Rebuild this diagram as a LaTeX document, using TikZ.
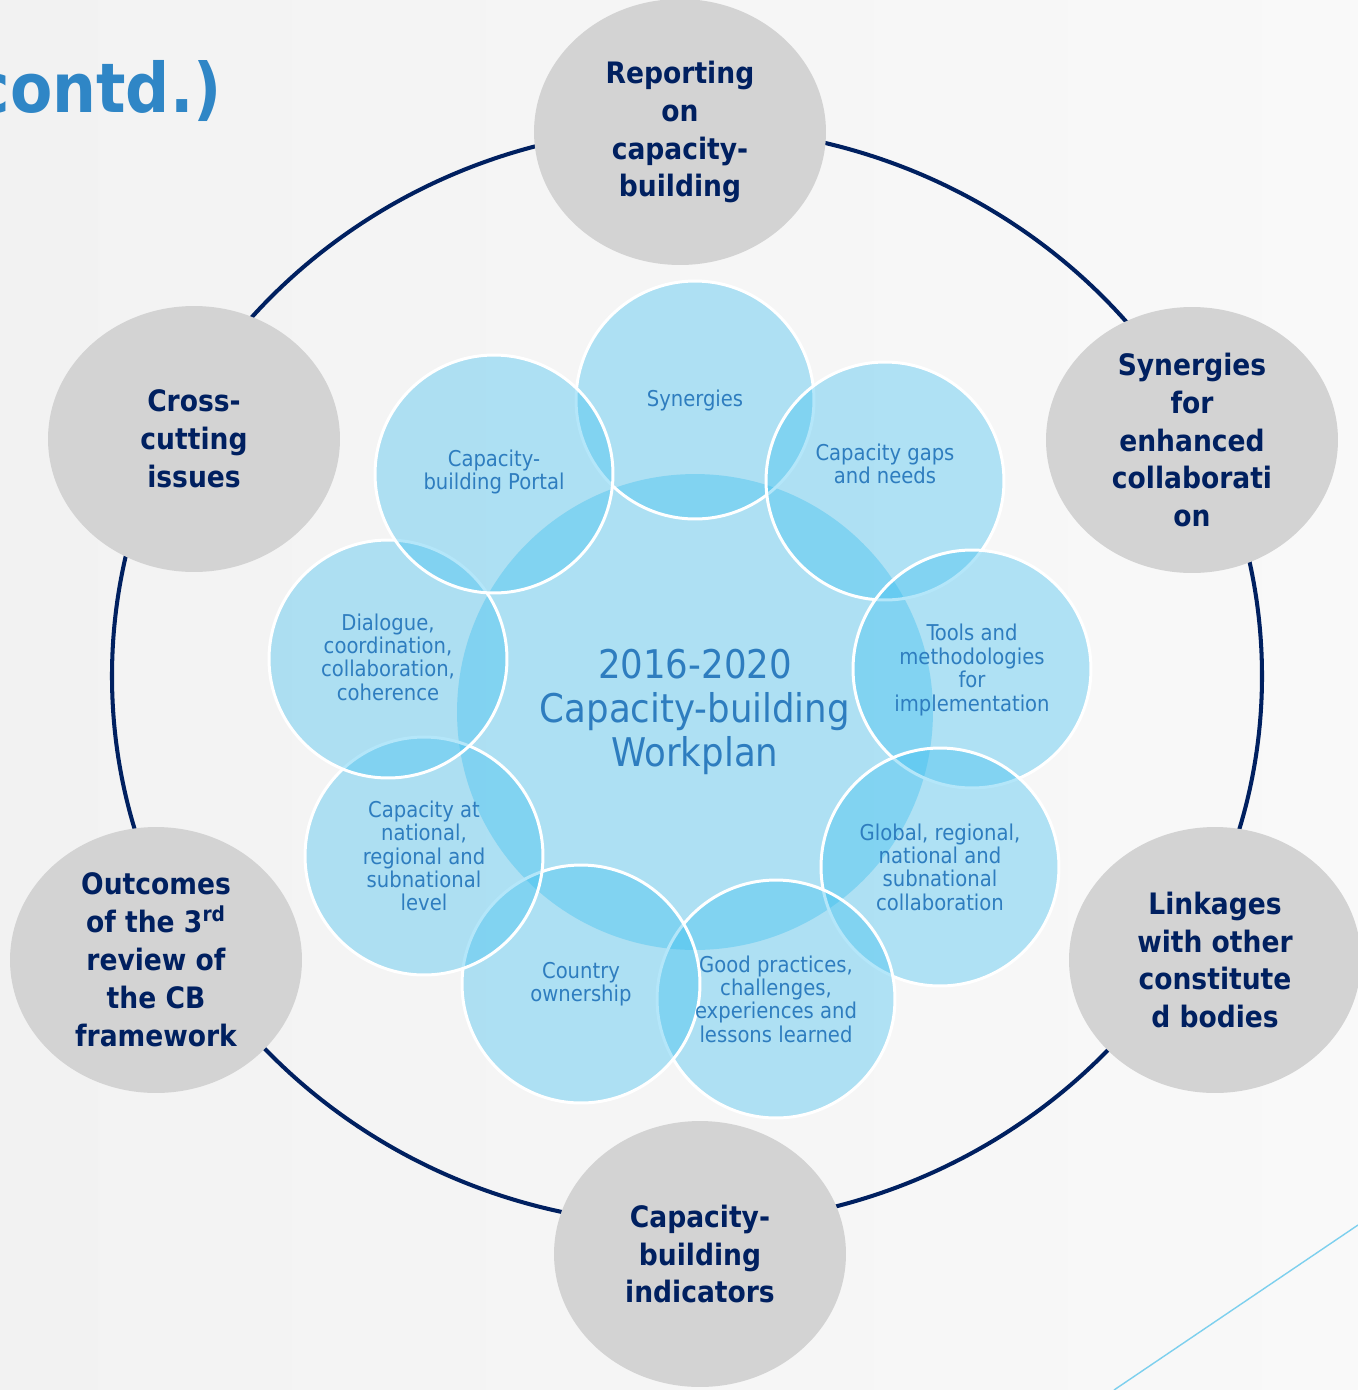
\documentclass[tikz,border=0pt]{standalone}
\usepackage{fontspec}
\setmainfont{DejaVu Sans Condensed}[BoldFont={DejaVu Sans Condensed Bold}]
\usepackage{tikz}
\usetikzlibrary{shapes.geometric}

\definecolor{navy}{RGB}{0,32,96}
\definecolor{bubbleblue}{RGB}{58,190,240}
\definecolor{bubbletext}{RGB}{46,125,191}
\definecolor{titleblue}{RGB}{47,134,198}
\definecolor{ovalgray}{RGB}{211,211,211}
\definecolor{bgleft}{RGB}{242,242,242}
\definecolor{bgright}{RGB}{249,249,249}
\definecolor{slideline}{RGB}{125,208,238}

\tikzset{
  oval/.style={ellipse, fill=ovalgray, minimum width=5.84cm, minimum height=5.32cm,
    inner sep=0pt, align=center, text=navy, font=\bfseries\fontsize{16.8}{21.6}\selectfont},
  bubble/.style={circle, fill=bubbleblue, fill opacity=0.38, draw=white, line width=1.7pt,
    minimum size=4.76cm, inner sep=0pt},
  hub/.style={circle, fill=bubbleblue, fill opacity=0.38, minimum size=9.52cm, inner sep=0pt},
  bubblelabel/.style={align=center, text=bubbletext, font=\fontsize{12.4}{13.3}\selectfont}
}

\begin{document}
\begin{tikzpicture}[x=0.02cm,y=-0.02cm]

  % Page in pixel units, y pointing down
  \useasboundingbox (0,0) rectangle (1358,1390);
  \shade [left color=bgleft, right color=bgright] (0,0) rectangle (1358,1390);

  % Title, cut at the left edge of the slide
  \node [anchor=base east, inner sep=0pt, text=titleblue,
         font=\bfseries\fontsize{39}{47}\selectfont] (title) at (222,112) {contd.)};

  % Thin accent line in the lower right corner
  \coordinate (accentA) at (1114,1390);
  \coordinate (accentB) at (1358,1225);
  \draw [slideline, line width=0.8pt] (accentA) -- (accentB);

  %%%%%%%%%%%%%%%%%%%%%%%%%%%%%%%%%%%%%%%%%%%%%%%%%%%%%%%%%%%%%%%%%%%%%%%%%%%%5
  %% Outer ring with the six grey topics
  %%%%%%%%%%%%%%%%%%%%%%%%%%%%%%%%%%%%%%%%%%%%%%%%%%%%%%%%%%%%%%%%%%%%%%%%%%%%5

  \draw [navy, line width=2.3pt] (687,676) ellipse [x radius=575, y radius=549];

  \node [oval] (report)     at (680,132)  {Reporting\\on\\capacity-\\building};
  \node [oval] (cross)      at (194,439)  {Cross-\\cutting\\issues};
  \node [oval] (synenh)     at (1192,440) {Synergies\\for\\enhanced\\collaborati\\on};
  \node [oval] (outcomes)   at (156,960)  {Outcomes\\of the 3\textsuperscript{rd}\\review of\\the CB\\framework};
  \node [oval] (linkages)   at (1215,960) {Linkages\\with other\\constitute\\d bodies};
  \node [oval] (indicators) at (700,1254) {Capacity-\\building\\indicators};

  %%%%%%%%%%%%%%%%%%%%%%%%%%%%%%%%%%%%%%%%%%%%%%%%%%%%%%%%%%%%%%%%%%%%%%%%%%%%5
  %% Inner cluster: the workplan and its nine work areas
  %%%%%%%%%%%%%%%%%%%%%%%%%%%%%%%%%%%%%%%%%%%%%%%%%%%%%%%%%%%%%%%%%%%%%%%%%%%%5

  % The big circle in the middle
  \node [hub] (hub) at (695,712) {};

  % The small circles, clockwise from the top
  \foreach \x/\y/\n in {695/400/syn, 885/481/gaps, 972/669/tools, 940/867/global,
                        776/999/good, 581/984/country, 424/856/capnat,
                        388/659/dialogue, 494/474/portal}
    \node [bubble] (\n) at (\x,\y) {};

  % Their texts, on top of all fills
  \foreach \x/\y/\n/\t in {695/400/syn/{Synergies},
                           885/464/gaps/{Capacity gaps\\and needs},
                           972/670/tools/{Tools and\\methodologies\\for\\implementation},
                           940/867/global/{Global, regional,\\national and\\subnational\\collaboration},
                           776/999/good/{Good practices,\\challenges,\\experiences and\\lessons learned},
                           581/984/country/{Country\\ownership},
                           424/856/capnat/{Capacity at\\national,\\regional and\\subnational\\level},
                           388/657/dialogue/{Dialogue,\\coordination,\\collaboration,\\coherence},
                           494/472/portal/{Capacity-\\building Portal}}
    \node [bubblelabel] (\n-text) at (\x,\y) {\t};

  \node [align=center, text=bubbletext, font=\fontsize{22.5}{24.8}\selectfont]
    (hub-text) at (695,712) {2016-2020\\Capacity-building\\Workplan};

\end{tikzpicture}
\end{document}
